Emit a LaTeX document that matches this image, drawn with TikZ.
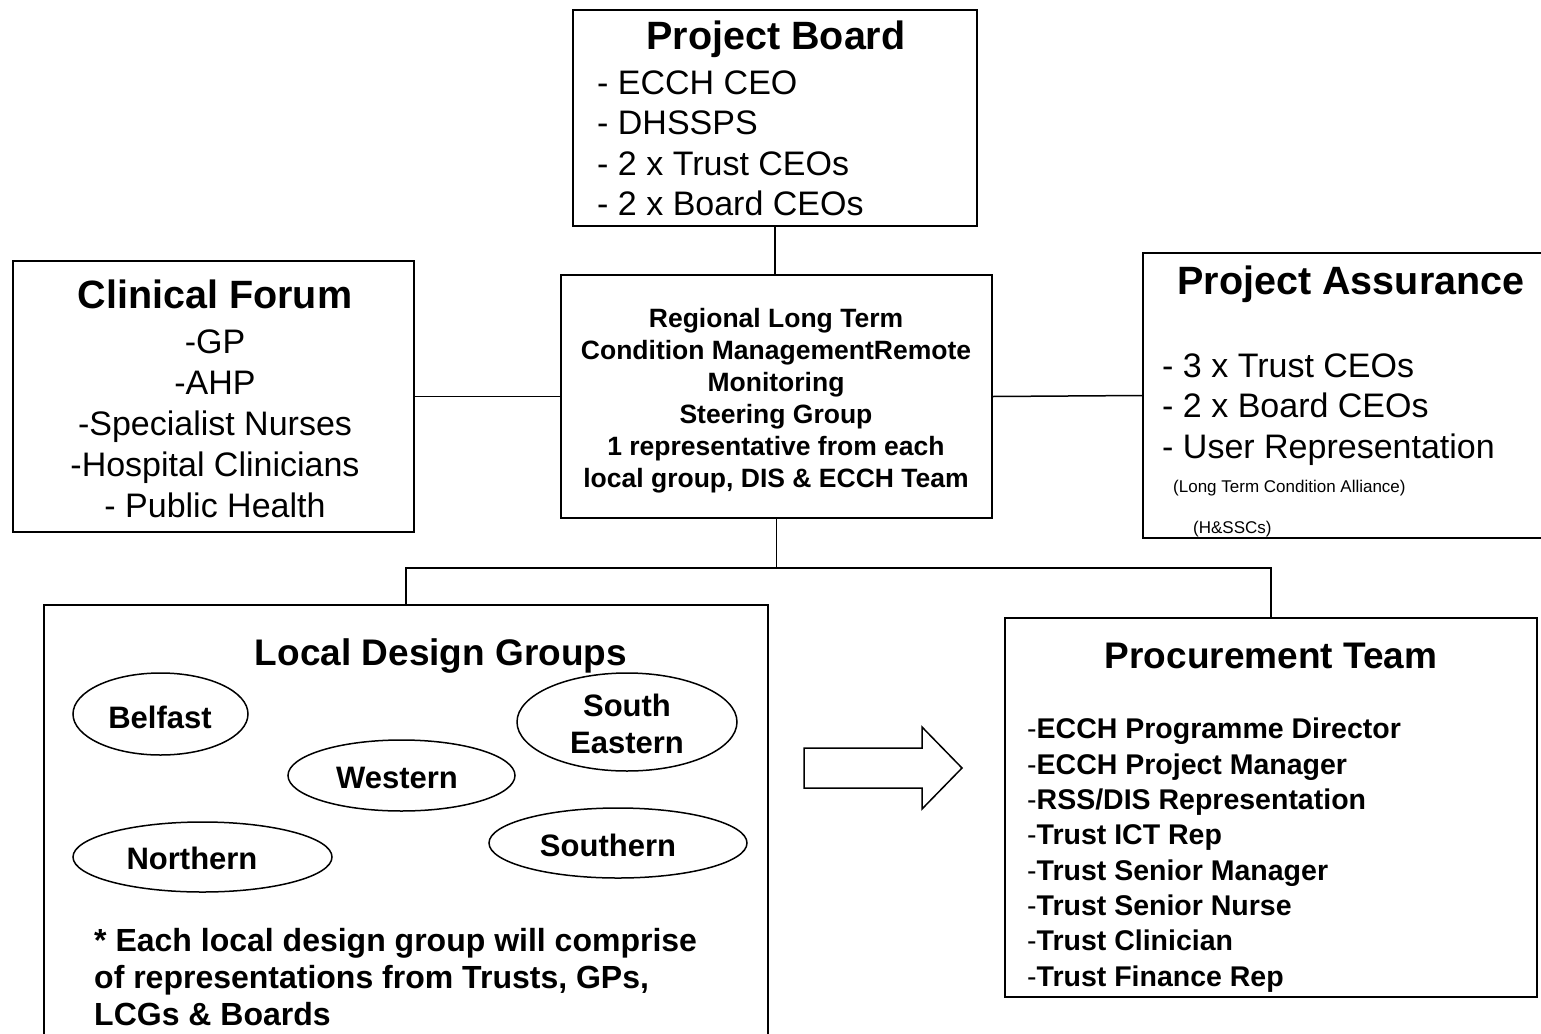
\documentclass[tikz,border=0pt]{standalone}
\usepackage{fontspec}
\setmainfont{Liberation Sans}
\usetikzlibrary{shapes.geometric}
\newcommand\fsz[1]{\fontsize{#1}{#1}\selectfont}
\begin{document}
\begin{tikzpicture}[x=1pt,y=-1pt,
  box/.style={draw, line width=1.8pt, rectangle, inner sep=0pt},
  oval/.style={draw, line width=1.5pt, ellipse, inner sep=0pt},
  conn/.style={line width=1.5pt},
  hd/.style={font=\fsz{39.5}\bfseries, anchor=base, inner sep=0pt},
  hdb/.style={font=\fsz{37}\bfseries, anchor=base, inner sep=0pt},
  it/.style={font=\fsz{34}, anchor=base west, inner sep=0pt},
  itc/.style={font=\fsz{34}, anchor=base, inner sep=0pt},
  sm/.style={font=\fsz{17}, anchor=base west, inner sep=0pt},
  sgt/.style={font=\fsz{26.5}\bfseries, anchor=base, inner sep=0pt},
  reg/.style={font=\fsz{31}\bfseries, anchor=base, inner sep=0pt},
  note/.style={font=\fsz{32}\bfseries, anchor=base west, inner sep=0pt},
  pit/.style={font=\fsz{28.5}, anchor=base west, inner sep=0pt},
]
\useasboundingbox (0,0) rectangle (1541,1033);
\clip (0,0) rectangle (1541,1033);

% boxes
\node[box, minimum width=404pt, minimum height=216pt] (pb) at (775,118) {};
\node[box, minimum width=431pt, minimum height=243pt] (sg) at (776.5,396.5) {};
\node[box, minimum width=401pt, minimum height=271pt] (cf) at (213.5,396.5) {};
\node[box, minimum width=417pt, minimum height=285pt] (pa) at (1351.5,395.5) {};
\node[box, minimum width=724pt, minimum height=455pt] (ld) at (406,832.5) {};
\node[box, minimum width=532pt, minimum height=379pt] (pt) at (1271,807.5) {};

% connectors
\coordinate (jn) at (776.5,568);
\draw[conn] (pb.south) -- (pb.south |- sg.north);
\draw[conn] (cf.east) -- (sg.west);
\draw[conn] (sg.east) -- (pa.west);
\draw[conn] (sg.south) -- (jn);
\draw[conn] (ld.north) |- (jn) -| (pt.north);

% Project Board
\node[hd] (pbt) at (776,49) {Project Board};
\node[it] (pb1) at (597,94) {- ECCH CEO};
\node[it] (pb2) at (597,134) {- DHSSPS};
\node[it] (pb3) at (597,175) {- 2 x Trust CEOs};
\node[it] (pb4) at (597,215) {- 2 x Board CEOs};

% Clinical Forum
\node[hd] (cft) at (215,308) {Clinical Forum};
\node[itc] (cf1) at (215,353) {-GP};
\node[itc] (cf2) at (215,394) {-AHP};
\node[itc] (cf3) at (215,435) {-Specialist Nurses};
\node[itc] (cf4) at (215,476) {-Hospital Clinicians};
\node[itc] (cf5) at (215,517) {- Public Health};

% Steering group
\node[sgt] (sg1) at (776,327.5) {Regional Long Term};
\node[sgt] (sg2) at (776,359.5) {Condition ManagementRemote};
\node[sgt] (sg3) at (776,391.5) {Monitoring};
\node[sgt] (sg4) at (776,423.5) {Steering Group};
\node[sgt] (sg5) at (776,455.5) {1 representative from each};
\node[sgt] (sg6) at (776,487.5) {local group, DIS \& ECCH Team};

% Project Assurance
\node[hd] (pat) at (1351,294) {Project Assurance};
\node[it] (pa1) at (1162,377) {- 3 x Trust CEOs};
\node[it] (pa2) at (1162,417) {- 2 x Board CEOs};
\node[it] (pa3) at (1162,458) {- User Representation};
\node[sm] (pa4) at (1173,492) {(Long Term Condition Alliance)};
\node[sm] (pa5) at (1193,533) {(H\&SSCs)};

% Local Design Groups
\node[hdb] (ldt) at (441,665) {Local Design Groups};
\node[oval, minimum width=175pt, minimum height=82pt] (ebel) at (160.5,714) {};
\node[oval, minimum width=220pt, minimum height=98pt] (ese) at (627,722) {};
\node[oval, minimum width=227pt, minimum height=71pt] (ewe) at (401.5,775.5) {};
\node[oval, minimum width=259pt, minimum height=70pt] (eno) at (202.5,857) {};
\node[oval, minimum width=258pt, minimum height=70pt] (eso) at (618,843) {};
\node[reg] (tbel) at (160,728) {Belfast};
\node[reg] (tse1) at (627,716) {South};
\node[reg] (tse2) at (627,753) {Eastern};
\node[reg] (twe) at (397,788) {Western};
\node[reg] (tno) at (192,869) {Northern};
\node[reg] (tso) at (608,856) {Southern};
\node[note] (n1) at (94,951) {* Each local design group will comprise};
\node[note] (n2) at (94,988) {of representations from Trusts, GPs,};
\node[note] (n3) at (94,1025) {LCGs \& Boards};

% block arrow
\draw[line width=1.5pt, line join=miter] (804,748) -- (922,748) -- (922,727) -- (962,768) -- (922,809) -- (922,788) -- (804,788) -- cycle;

% Procurement Team
\node[hdb] (ptt) at (1271,668) {Procurement Team};
\node[pit] (pt1) at (1027,738) {-\textbf{ECCH Programme Director}};
\node[pit] (pt2) at (1027,774) {-\textbf{ECCH Project Manager}};
\node[pit] (pt3) at (1027,809) {-\textbf{RSS/DIS Representation}};
\node[pit] (pt4) at (1027,844) {-\textbf{Trust ICT Rep}};
\node[pit] (pt5) at (1027,880) {-\textbf{Trust Senior Manager}};
\node[pit] (pt6) at (1027,915) {-\textbf{Trust Senior Nurse}};
\node[pit] (pt7) at (1027,950) {-\textbf{Trust Clinician}};
\node[pit] (pt8) at (1027,986) {-\textbf{Trust Finance Rep}};
\end{tikzpicture}
\end{document}
